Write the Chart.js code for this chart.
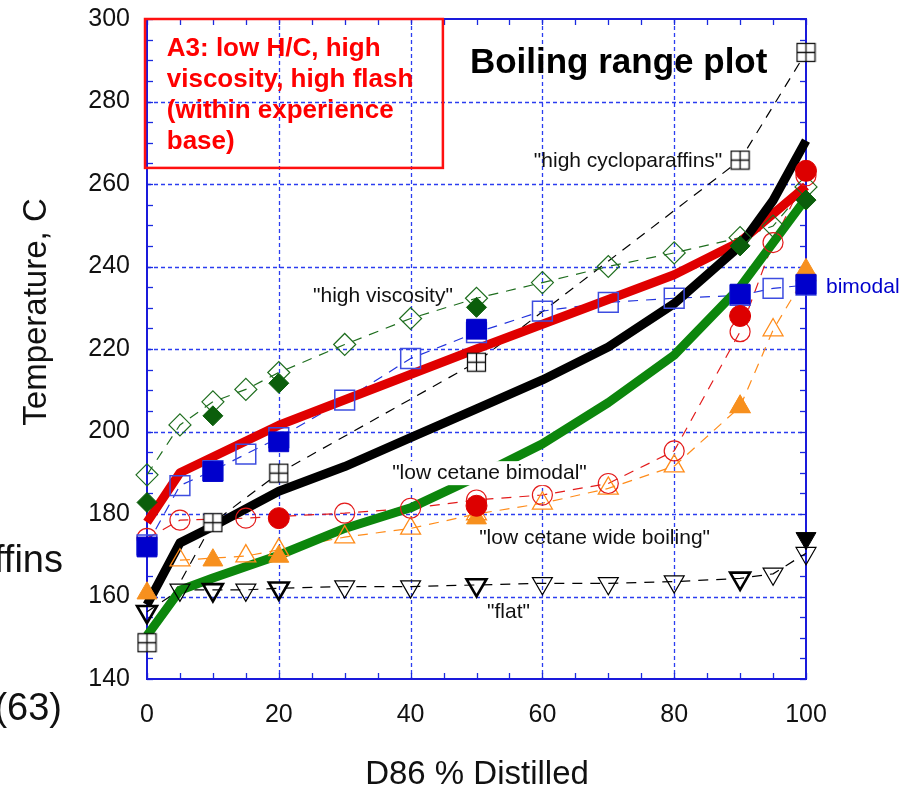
<!DOCTYPE html>
<html><head><meta charset="utf-8">
<script src="https://cdn.jsdelivr.net/npm/chart.js@4/dist/chart.umd.min.js"></script>
<style>html,body{margin:0;padding:0;background:#fff;overflow:hidden}#wrap{position:relative;width:902px;height:789px}</style>
</head><body><div id="wrap"><canvas id="c" width="902" height="789"></canvas></div>
<script>
const FONT = "'Liberation Sans', Arial, Helvetica, sans-serif";
// tick labels
const xTicks = [0, 20, 40, 60, 80, 100];
const yTicks = [140, 160, 180, 200, 220, 240, 260, 280, 300];

// thick lines (no markers)
const redThickX = [0, 5, 20, 50, 80, 90, 100];
const redThickY = [178, 190, 201.5, 220, 238, 246, 259.5];
const blackThickX = [0, 5, 10, 20, 30, 40, 50, 60, 70, 80, 90, 95, 100];
const blackThickY = [158, 173, 177, 185.5, 191.5, 198.5, 205.5, 212.5, 220.5, 231, 245, 256, 270.5];
const greenThickX = [0, 5, 10, 20, 30, 40, 50, 60, 70, 80, 90, 100];
const greenThickY = [150.5, 161.5, 164.5, 170, 176.5, 181.5, 189, 197, 207, 218.5, 235, 256.5];

// "high viscosity"
const viscOpenX = [0, 5, 10, 15, 20, 30, 40, 50, 60, 70, 80, 90, 95, 100];
const viscOpenY = [189.5, 201.6, 207.2, 210.2, 214.3, 221.1, 227.4, 232.3, 236.1, 240, 243.3, 247, 249.8, 259.3];
const viscFilledX = [0, 10, 20, 50, 90, 100];
const viscFilledY = [182.8, 203.8, 211.7, 230.1, 245, 256.1];

// "bimodal"
const bimOpenX = [0, 5, 10, 15, 20, 30, 40, 50, 60, 70, 80, 90, 95, 100];
const bimOpenY = [172.5, 186.9, 190.5, 194.5, 198.5, 207.6, 217.7, 224, 229.2, 231.3, 232.3, 233, 234.7, 235.5];
const bimFilledX = [0, 10, 20, 50, 90, 100];
const bimFilledY = [172, 190.3, 197.5, 224.8, 233.3, 235.7];

// "low cetane bimodal"
const lcbOpenX = [0, 5, 15, 30, 40, 50, 60, 70, 80, 90, 95, 100];
const lcbOpenY = [174.1, 178.5, 179, 180.2, 181.4, 183.4, 184.6, 187.4, 195.3, 224.2, 245.8, 262];
const lcbFilledX = [20, 50, 90, 100];
const lcbFilledY = [179, 182, 228, 263.2];

// "low cetane wide boiling"
const lcwOpenX = [5, 15, 20, 30, 40, 50, 60, 70, 80, 90, 95, 100];
const lcwOpenY = [168.8, 169.8, 171.3, 174.4, 176.5, 180, 182.6, 186.2, 191.6, 206, 224.6, 238];
const lcwFilledX = [0, 10, 20, 50, 90, 100];
const lcwFilledY = [160.8, 168.8, 169.7, 179, 206, 239.2];

// "high cycloparaffins"
const cycloX = [0, 10, 20, 50, 90, 100];
const cycloY = [148.8, 177.9, 189.9, 216.8, 265.8, 291.9];

// "flat"
const flatOpenX = [5, 15, 30, 40, 60, 70, 80, 95, 100];
const flatOpenY = [161.6, 161.6, 162.4, 162.4, 163.2, 163.2, 163.6, 165.5, 170.5];
const flatBoldX = [0, 10, 20, 50, 90];
const flatBoldY = [156.3, 161.6, 162, 162.8, 164.4];
const flatFilledX = [100];
const flatFilledY = [174.1];

function pts(xs, ys) { return xs.map((v, i) => ({ x: v, y: ys[i] })); }
function merged(ax, ay, bx, by) { return pts(ax, ay).concat(pts(bx, by)).sort((p, q) => p.x - q.x); }

function crossSquare(size, color) {
  const c = document.createElement('canvas');
  c.width = c.height = size;
  const g = c.getContext('2d');
  g.fillStyle = '#fff'; g.fillRect(1, 1, size - 2, size - 2);
  g.strokeStyle = color; g.lineWidth = 1.3;
  g.strokeRect(1.5, 1.5, size - 3, size - 3);
  g.beginPath();
  g.moveTo(size / 2, 1.5); g.lineTo(size / 2, size - 1.5);
  g.moveTo(1.5, size / 2); g.lineTo(size - 1.5, size / 2);
  g.stroke();
  return c;
}

const DASH = [10, 8];
function dashLine(data, color, order) {
  return { data, showLine: true, borderColor: color, borderWidth: 1.2, borderDash: DASH, pointRadius: 0, fill: false, order, clip: false };
}
function thick(data, color) {
  return { data, showLine: true, borderColor: color, borderWidth: 9, borderJoinStyle: 'round', pointRadius: 0, fill: false, order: 3, clip: false };
}
function markers(data, style, r, stroke, fillC, bw, order, rot) {
  return { data, showLine: false, pointStyle: style, pointRadius: r, pointBorderColor: stroke, pointBackgroundColor: fillC, pointBorderWidth: bw, pointRotation: rot || 0, order, clip: false };
}

const datasets = [
  // dashed connecting lines (bottom)
  dashLine(pts(viscOpenX, viscOpenY), '#1f6e1f', 5),
  dashLine(pts(bimOpenX, bimOpenY), '#2233dd', 5),
  dashLine(pts(lcbOpenX, lcbOpenY), '#e31a1a', 5),
  dashLine(pts(lcwOpenX, lcwOpenY), '#ff8c1a', 5),
  dashLine(pts(cycloX, cycloY), '#000000', 5),
  dashLine(merged(flatOpenX, flatOpenY, flatBoldX, flatBoldY), '#000000', 5),
  // thick lines
  thick(pts(greenThickX, greenThickY), '#0c860c'),
  thick(pts(blackThickX, blackThickY), '#000000'),
  thick(pts(redThickX, redThickY), '#e00000'),
  // open markers
  markers(pts(viscOpenX, viscOpenY), 'rectRot', 11, '#1f6e1f', 'rgba(0,0,0,0)', 1.2, 2),
  markers(pts(bimOpenX, bimOpenY), 'rect', 14, '#3d4de0', 'rgba(0,0,0,0)', 1.5, 2),
  markers(pts(lcbOpenX, lcbOpenY), 'circle', 10, '#e31a1a', 'rgba(0,0,0,0)', 1.2, 2),
  markers(pts(lcwOpenX, lcwOpenY), 'triangle', 11.5, '#ff8c1a', 'rgba(0,0,0,0)', 1.3, 2),
  markers(pts(flatOpenX, flatOpenY), 'triangle', 11.5, '#000000', 'rgba(0,0,0,0)', 1.2, 2, 180),
  markers(pts(flatBoldX, flatBoldY), 'triangle', 11.5, '#000000', 'rgba(0,0,0,0)', 2.6, 1, 180),
  // filled markers (top)
  markers(pts(viscFilledX, viscFilledY), 'rectRot', 10, '#0b5e0b', '#0b5e0b', 1, 0),
  markers(pts(bimFilledX, bimFilledY), 'rect', 14, '#0000cc', '#0000cc', 1, 0),
  markers(pts(lcbFilledX, lcbFilledY), 'circle', 10.5, '#dd0000', '#dd0000', 1, 0),
  markers(pts(lcwFilledX, lcwFilledY), 'triangle', 11.5, '#f7901e', '#f7901e', 1, 0),
  markers(pts(flatFilledX, flatFilledY), 'triangle', 11.5, '#000000', '#000000', 1, 0, 180),
  markers(pts(cycloX, cycloY), crossSquare(21, '#111'), 10, '#111', '#fff', 1, 0)
];

function line(ctx, x1, y1, x2, y2) { ctx.beginPath(); ctx.moveTo(x1, y1); ctx.lineTo(x2, y2); ctx.stroke(); }

const framePlugin = {
  id: 'frame',
  beforeDatasetsDraw(chart) {
    const { ctx, chartArea: a, scales: { x, y } } = chart;
    ctx.save();
    // dotted grid
    ctx.strokeStyle = '#2b3df0'; ctx.lineWidth = 1.3; ctx.setLineDash([4, 3]);
    xTicks.forEach(v => { if (v > x.min && v < x.max) { const p = Math.round(x.getPixelForValue(v)) + 0.5; line(ctx, p, a.top, p, a.bottom); } });
    yTicks.forEach(v => { if (v > y.min && v < y.max) { const p = Math.round(y.getPixelForValue(v)) + 0.5; line(ctx, a.left, p, a.right, p); } });
    ctx.setLineDash([]);
    // inward minor ticks
    ctx.strokeStyle = '#1a2ae0'; ctx.lineWidth = 1.3;
    const TL = 6;
    for (let v = x.min; v <= x.max; v += 5) {
      const p = Math.round(x.getPixelForValue(v)) + 0.5;
      line(ctx, p, a.bottom, p, a.bottom - TL);
      line(ctx, p, a.top, p, a.top + TL);
    }
    for (let v = y.min; v <= y.max; v += 5) {
      const p = Math.round(y.getPixelForValue(v)) + 0.5;
      line(ctx, a.left, p, a.left + TL, p);
      line(ctx, a.right, p, a.right - TL, p);
    }
    // frame
    ctx.strokeStyle = '#1a1adb'; ctx.lineWidth = 2;
    ctx.strokeRect(a.left, a.top, a.right - a.left, a.bottom - a.top);
    ctx.restore();
  },
  afterDatasetsDraw(chart) {
    const { ctx, scales: { x, y } } = chart;
    const X = v => x.getPixelForValue(v), Y = v => y.getPixelForValue(v);
    ctx.save();
    // white backing of the "low cetane bimodal" label
    ctx.font = `21px ${FONT}`;
    const t1 = '"low cetane bimodal"';
    const w1 = ctx.measureText(t1).width;
    ctx.fillStyle = '#fff';
    ctx.fillRect(X(37.2) - 3, Y(189.9) - 12, w1 + 6, 24);
    ctx.fillStyle = '#111';
    ctx.textBaseline = 'middle';
    ctx.textAlign = 'left';
    ctx.fillText(t1, X(37.2), Y(189.9));
    ctx.fillText('"low cetane wide boiling"', X(50.4), Y(174.2));
    ctx.fillText('"flat"', X(51.6), Y(156.2));
    ctx.fillText('"high viscosity"', X(25.2), Y(232.8));
    ctx.textAlign = 'right';
    ctx.fillText('"high cycloparaffins"', X(87.3), Y(265.6));
    // title
    ctx.textAlign = 'left';
    ctx.font = `bold 35px ${FONT}`;
    ctx.fillStyle = '#000';
    ctx.fillText('Boiling range plot', X(49), Y(289.3));
    // red annotation box
    ctx.strokeStyle = '#ff1010'; ctx.lineWidth = 2.5;
    const bx1 = X(-0.3), bx2 = X(44.9), by1 = Y(300), by2 = Y(263.9);
    ctx.strokeRect(bx1, by1, bx2 - bx1, by2 - by1);
    ctx.fillStyle = '#ff0000';
    ctx.font = `bold 26px ${FONT}`;
    ctx.textBaseline = 'alphabetic';
    const lines = ['A3: low H/C, high', 'viscosity, high flash', '(within experience', 'base)'];
    lines.forEach((s, i) => ctx.fillText(s, X(3), by1 + 37 + i * 31));
    ctx.restore();
  },
  afterDraw(chart) {
    const { ctx, chartArea: a, scales: { y } } = chart;
    ctx.save();
    ctx.fillStyle = '#111';
    ctx.font = `33px ${FONT}`;
    ctx.textAlign = 'center'; ctx.textBaseline = 'middle';
    ctx.fillText('D86 % Distilled', 477, 775);
    ctx.save();
    ctx.translate(37, 312);
    ctx.rotate(-Math.PI / 2);
    ctx.fillText('Temperature, C', 0, 0);
    ctx.restore();
    ctx.fillStyle = '#0000cc';
    ctx.font = `21px ${FONT}`;
    ctx.textAlign = 'left';
    ctx.fillText('bimodal', a.right + 20, y.getPixelForValue(235));
    ctx.fillStyle = '#111';
    ctx.font = `38px ${FONT}`;
    ctx.textAlign = 'right'; ctx.textBaseline = 'alphabetic';
    ctx.fillText('ffins', 63, 572);
    ctx.fillText('(63)', 62, 720);
    ctx.restore();
  }
};

new Chart(document.getElementById('c'), {
  type: 'scatter',
  data: { datasets },
  options: {
    responsive: false, animation: false, devicePixelRatio: 1,
    layout: { padding: { top: 19, right: 96, left: 0, bottom: 0 } },
    plugins: { legend: { display: false }, tooltip: { enabled: false } },
    scales: {
      x: {
        type: 'linear', min: 0, max: 100,
        afterBuildTicks: s => { s.ticks = xTicks.map(v => ({ value: v })); },
        grid: { display: false, drawTicks: false }, border: { display: false },
        ticks: { font: { family: FONT, size: 25 }, color: '#111', padding: 21, maxRotation: 0 },
        afterFit: s => { s.height = 110; s.paddingLeft = 0; s.paddingRight = 0; }
      },
      y: {
        type: 'linear', min: 140, max: 300,
        afterBuildTicks: s => { s.ticks = yTicks.map(v => ({ value: v })); },
        grid: { display: false, drawTicks: false }, border: { display: false },
        ticks: { font: { family: FONT, size: 25 }, color: '#111', padding: 17 },
        afterFit: s => { s.width = 147; s.paddingTop = 0; s.paddingBottom = 0; }
      }
    }
  },
  plugins: [framePlugin]
});
</script>
</body></html>
